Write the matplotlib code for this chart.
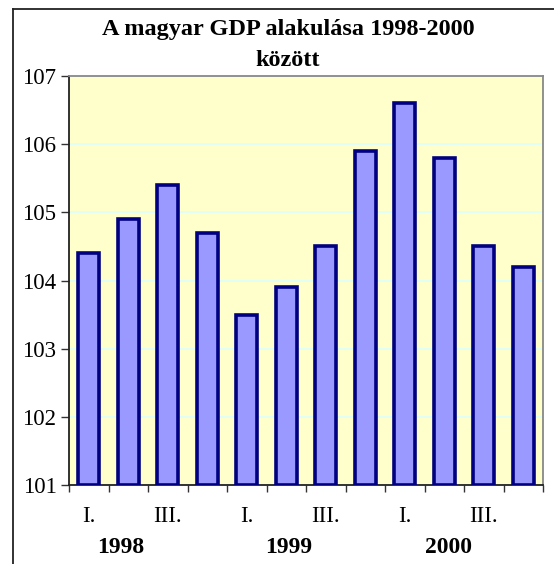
import matplotlib
matplotlib.use("Agg")
import matplotlib.pyplot as plt
from matplotlib.lines import Line2D

# Adatok: negyedéves GDP index (előző év azonos időszaka = 100)
negyedevek = ["I.", "II.", "III.", "IV."] * 3
evek = ["1998", "1999", "2000"]
gdp = [104.4, 104.9, 105.4, 104.7,
       103.5, 103.9, 104.5, 105.9,
       106.6, 105.8, 104.5, 104.2]
y_ticks = [101, 102, 103, 104, 105, 106, 107]

plt.rcParams["font.family"] = ["Liberation Serif", "DejaVu Serif"]

fig = plt.figure(figsize=(5.54, 5.64), dpi=100)
ax = fig.add_axes([69 / 554, 79 / 564, 474 / 554, 409 / 564])
ax.set_facecolor("#FFFFCC")

x = list(range(len(gdp)))
ax.bar(x, [v - 101 for v in gdp], bottom=101, width=0.52,
       color="#9999FF", edgecolor="#000080", linewidth=2.6, zorder=3)

ax.set_xlim(-0.5, len(gdp) - 0.5)
ax.set_ylim(101, 107)
ax.set_yticks(y_ticks)
ax.set_yticklabels([str(t) for t in y_ticks], fontsize=16.5, family="Liberation Serif")
ax.grid(axis="y", color="#DDFFFF", linewidth=1.2, zorder=0)

# x tengely: osztásjelek a kategóriák között, feliratok csak I. és III.
ax.set_xticks([i - 0.5 for i in range(len(gdp) + 1)])
ax.set_xticklabels([])
ax.tick_params(axis="x", direction="out", length=5, width=1, color="#333333")
ax.tick_params(axis="y", direction="out", length=6, width=1, color="#333333", pad=3)
for i, q in enumerate(negyedevek):
    if q in ("I.", "III."):
        ax.text(i, -0.077, q, transform=ax.get_xaxis_transform(),
                ha="center", va="center", fontsize=16.5)
for ev, pos in zip(evek, [0.8, 5.05, 9.1]):
    ax.text(pos, -0.153, ev, transform=ax.get_xaxis_transform(),
            ha="center", va="center", fontsize=17, fontweight="bold")

ax.spines["left"].set_color("#222222")
ax.spines["bottom"].set_color("#222222")
ax.spines["top"].set_color("#888888")
ax.spines["right"].set_color("#888888")
for s in ax.spines.values():
    s.set_linewidth(1.3)

fig.text(288 / 554, 1 - 30 / 564, "A magyar GDP alakulása 1998-2000",
         ha="center", va="center", fontsize=17.5, fontweight="bold")
fig.text(288 / 554, 1 - 61 / 564, "között",
         ha="center", va="center", fontsize=17.5, fontweight="bold")

# külső keret (csak felső és bal oldal látszik)
fig.add_artist(Line2D([13 / 554, 13 / 554], [0, 1 - 9 / 564],
                      transform=fig.transFigure, color="#222222", linewidth=1.3))
fig.add_artist(Line2D([13 / 554, 1], [1 - 9 / 564, 1 - 9 / 564],
                      transform=fig.transFigure, color="#222222", linewidth=1.3))

fig.savefig("out.png", dpi=100)
